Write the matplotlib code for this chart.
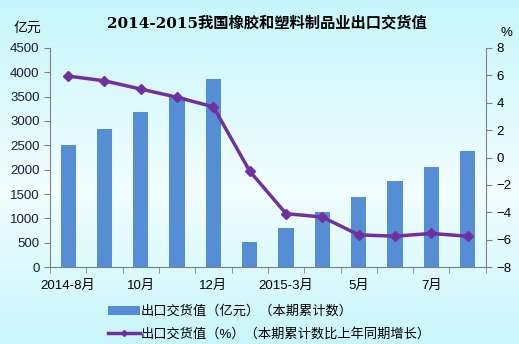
import numpy as np
import matplotlib.pyplot as plt
from matplotlib.colors import LinearSegmentedColormap

plt.rcParams['font.family'] = ['Liberation Sans', 'Noto Sans CJK SC', 'DejaVu Sans']

# 2014-8 ~ 2015-8 出口交货值（累计）
months = ['2014-8', '2014-9', '2014-10', '2014-11', '2014-12', '2015-2',
          '2015-3', '2015-4', '2015-5', '2015-6', '2015-7', '2015-8']
tick_labels = ['2014-8月', '', '10月', '', '12月', '', '2015-3月', '', '5月', '', '7月', '']
export_value = [2505, 2840, 3185, 3500, 3865, 515, 800, 1130, 1440, 1770, 2055, 2385]
growth_pct = [5.95, 5.6, 5.0, 4.4, 3.7, -1.0, -4.1, -4.35, -5.65, -5.75, -5.55, -5.75]

bar_color = '#558ed5'
line_color = '#7030a0'
axis_gray = '#808080'

fig = plt.figure(figsize=(5.19, 3.44), dpi=100)

# 背景渐变：上下浅青，中间偏白
bg = fig.add_axes([0, 0, 1, 1], zorder=-10)
cmap = LinearSegmentedColormap.from_list('bg', [(0, '#c6f6fa'), (0.55, '#f2feff'), (1, '#c8f6fb')])
grad = np.linspace(0, 1, 256).reshape(-1, 1)
bg.imshow(grad, aspect='auto', cmap=cmap, extent=[0, 1, 0, 1])
bg.set_axis_off()

ax = fig.add_axes([0.0963, 0.2238, 0.8397, 0.6367])
ax.patch.set_alpha(0)
x = np.arange(len(months))
bars = ax.bar(x, export_value, width=0.42, color=bar_color, zorder=2)
ax.set_xlim(-0.5, len(months) - 0.5)
ax.set_ylim(0, 4500)
ax.set_yticks(range(0, 4501, 500))
ax.set_xticks(x)
ax.set_xticklabels(tick_labels, fontsize=9.5)
ax.set_xticks(np.arange(-0.5, len(months) + 0.5, 1), minor=True)
ax.tick_params(axis='x', which='major', length=0, pad=9)
ax.tick_params(axis='x', which='minor', length=4, color=axis_gray, direction='out')
ax.tick_params(axis='y', length=4, color=axis_gray, labelsize=9.5, labelcolor='#1a1a40')
for s in ['top', 'right']:
    ax.spines[s].set_visible(False)
for s in ['left', 'bottom']:
    ax.spines[s].set_color(axis_gray)

ax2 = ax.twinx()
line, = ax2.plot(x, growth_pct, color=line_color, lw=2.5, marker='D', ms=5.5, zorder=3)
ax2.set_ylim(-8, 8)
ax2.set_yticks(range(-8, 9, 2))
ax2.tick_params(axis='y', length=4, color=axis_gray, labelsize=9.5)
for s in ['top', 'left', 'bottom']:
    ax2.spines[s].set_visible(False)
ax2.spines['right'].set_color(axis_gray)

fig.text(0.515, 0.933, '2014-2015我国橡胶和塑料制品业出口交货值', ha='center', va='center',
         fontsize=11, fontweight='bold', family=['DejaVu Serif', 'Noto Sans CJK SC'])
fig.text(0.053, 0.92, '亿元', ha='center', va='center', fontsize=10)
fig.text(0.975, 0.905, '%', ha='center', va='center', fontsize=9.5)

fig.legend([bars, line],
           ['出口交货值（亿元）（本期累计数）', '出口交货值（%）（本期累计数比上年同期增长）'],
           loc='lower left', bbox_to_anchor=(0.185, -0.025), frameon=False, fontsize=9.5,
           handlelength=2.4, handletextpad=0.1, labelspacing=0.75, markerscale=0.55)

fig.savefig('out.png', dpi=100)
